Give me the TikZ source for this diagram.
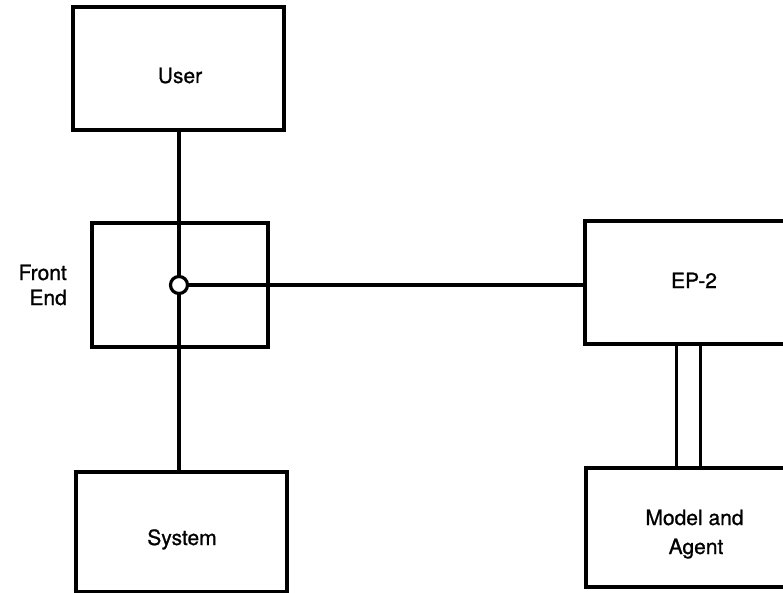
\documentclass[tikz,border=0pt]{standalone}
\usepackage{fontspec}
\setmainfont{TeX Gyre Heros}
\newfontfamily\medfont{TeX Gyre Heros}[FakeBold=0.9]
\begin{document}
\begin{tikzpicture}[x=1pt,y=-1pt,
  box/.style={draw,line width=3.2pt,rectangle,inner sep=0pt},
  lbl/.style={anchor=base,inner sep=0pt,font=\medfont\fontsize{21}{24}\selectfont},
  conn/.style={line width=3.4pt},
  junction/.style={draw,circle,fill=white,line width=3.2pt,minimum size=17pt,inner sep=0pt}]
\useasboundingbox (0,0) rectangle (783,593);
\clip (0,0) rectangle (783,593);
% boxes
\node[box,minimum width=211pt,minimum height=123pt] (user) at (178.5,68.5) {};
\node[box,minimum width=176pt,minimum height=124pt] (fe) at (180,285) {};
\node[box,minimum width=211pt,minimum height=120pt] (sys) at (181.5,532) {};
\node[box,minimum width=220pt,minimum height=123pt] (ep) at (695,282.5) {};
\node[box,minimum width=218pt,minimum height=119pt] (model) at (695,527.5) {};
% labels
\node[lbl] (userlbl) at (180,83) {User};
\node[lbl,anchor=base east] (frontlbl) at (67,280) {Front};
\node[lbl,anchor=base east] (endlbl) at (67,305) {End};
\node[lbl] (syslbl) at (182,545) {System};
\node[lbl] (eplbl) at (694,288) {EP-2};
\node[lbl] (modellbl) at (694.5,525) {Model and};
\node[lbl] (agentlbl) at (696,554) {Agent};
% connectors
\coordinate (ut) at (179,130);
\coordinate (sb) at (179,472);
\draw[conn] (user.south -| ut) -- (sys.north -| sb);
\node[junction] (j) at (179,285) {};
\draw[conn] (j.east) -- (ep.west |- j.east);
\draw[conn] ([xshift=-18.5pt]ep.south) -- ([xshift=-18.5pt]model.north);
\draw[conn] ([xshift=5.5pt]ep.south) -- ([xshift=5.5pt]model.north);
\end{tikzpicture}
\end{document}
